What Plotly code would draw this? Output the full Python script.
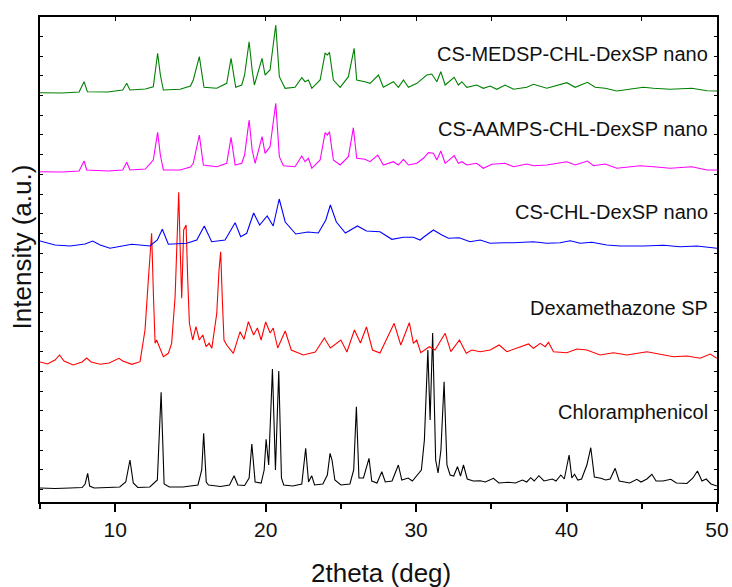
import plotly.graph_objects as go

# ---------------- data (2theta in deg, intensity in a.u.) ----------------
chl_x = [5.0, 6.0, 7.0, 7.8, 8.0, 8.17, 8.3, 8.6, 9.5, 10.3, 10.7, 10.98, 11.2, 11.5, 12.3, 12.8, 13.05, 13.25, 13.6, 14.5,
         15.5, 15.75, 15.88, 16.05, 16.2, 17.0, 17.6, 17.9, 18.15, 18.6, 18.9, 19.08, 19.3, 19.7, 19.9, 20.03, 20.2, 20.45,
         20.65, 20.87, 21.05, 21.2, 21.8, 22.4, 22.66, 22.85, 23.06, 23.25, 23.8, 24.1, 24.28, 24.41, 24.6, 25.0, 25.6,
         25.85, 26.03, 26.2, 26.5, 26.87, 27.05, 27.4, 27.72, 27.95, 28.4, 28.82, 29.05, 29.47, 29.75, 30.13, 30.35, 30.55,
         30.78, 30.93, 31.1, 31.3, 31.46, 31.65, 31.86, 32.05, 32.26, 32.5, 32.75, 32.95, 33.15, 33.4, 33.8, 34.26, 34.6,
         35.14, 35.5, 36.14, 36.6, 37.07, 37.35, 37.62, 37.85, 38.16, 38.5, 39.06, 39.3, 39.62, 39.85, 40.17, 40.35, 40.53,
         40.75, 41.0, 41.35, 41.61, 41.85, 42.28, 42.6, 42.9, 43.23, 43.5, 44.2, 44.67, 44.95, 45.34, 45.67, 45.95, 46.4,
         46.93, 47.3, 48.0, 48.4, 48.7, 49.0, 49.28, 49.6, 50.0]
chl_y = [1.5, 1, 1.5, 2, 5.5, 16.2, 3.5, 1.5, 2, 2.5, 7.5, 29.5, 6.5, 2, 2.5, 9.5, 97.2, 5.5, 2.5, 2.5,
         4.5, 19.5, 56.2, 7.5, 4.5, 3, 4.5, 13.8, 4.5, 4, 11.5, 45.5, 7.5, 6.5, 19.5, 50.2, 24.5, 120.5,
         19.5, 118.5, 11.5, 4.5, 3.5, 5.5, 41.2, 7.5, 13.8, 4.5, 5.5, 14.5, 36.2, 29.5, 9.5, 4.5, 5.5,
         19.5, 82.8, 11.5, 11.5, 31.2, 8.5, 6.5, 17.8, 7.5, 8.5, 24.5, 9.5, 11.5, 8.5, 15.5, 19.5, 49.5,
         139.5, 69.5, 156.5, 29.5, 16.5, 39.5, 107.8, 24.5, 14.5, 13.5, 22.8, 13.5, 24.5, 10.5, 8.5, 8.8, 7.5,
         11.2, 6.5, 7.2, 6.5, 9.5, 7.5, 11.8, 8.5, 13.8, 8.5, 10.5, 8.5, 14.5, 10.5, 34.5, 11.5, 15.2,
         9.5, 10.5, 24.5, 41.8, 12.5, 11.2, 9.5, 10.5, 21.2, 8.5, 6.5, 10.2, 7.5, 10.5, 15.2, 8.5, 8.5,
         10.2, 6.5, 6, 11.5, 18.5, 8.5, 10.5, 5.5, 3.5]

dex_x = [5.0, 5.5, 6.0, 6.3, 6.6, 7.2, 7.8, 8.1, 8.4, 9.0, 9.6, 10.25, 10.5, 11.1, 11.65, 11.98, 12.2, 12.42, 12.55,
         12.65, 12.75, 12.87, 13.2, 13.53, 13.75, 13.98, 14.1, 14.22, 14.32, 14.42, 14.55, 14.71, 14.82, 14.93, 15.15,
         15.37, 15.59, 15.82, 16.04, 16.24, 16.42, 16.75, 16.9, 17.01, 17.12, 17.23, 17.41, 17.85, 18.3, 18.56, 18.85,
         19.2, 19.45, 19.7, 20.0, 20.3, 20.5, 20.8, 21.3, 21.7, 22.5, 23.3, 23.9, 24.3, 25.0, 25.4, 25.9, 26.3, 26.7,
         27.1, 27.6, 28.54, 28.98, 29.55, 29.82, 30.04, 30.31, 30.88, 31.26, 31.93, 32.31, 32.88, 33.33, 33.7, 34.26,
         34.92, 35.52, 36.03, 37.47, 37.8, 38.25, 38.58, 38.8, 39.13, 40.02, 40.68, 41.35, 42.23, 43.12, 44.01, 45.34,
         46.22, 47.11, 48.0, 48.88, 49.55, 50.0]
dex_y = [127.5, 125.5, 129.5, 134.5, 128.5, 124.5, 127.5, 131.5, 127.5, 125.2, 126.5, 131.2, 128.5, 125.2, 127.8, 159.5,
         209.5, 256.2, 189.5, 146.2, 149.5, 144.5, 132.8, 136.2, 146.2, 192.8, 249.5, 297.2, 239.5, 191.2, 259.5, 264.5,
         209.5, 166.2, 149.5, 162.8, 149.5, 154.5, 142.8, 146.2, 141.2, 176.2, 219.5, 237.8, 189.5, 149.5, 144.5, 136.2,
         157.8, 150.2, 167.8, 154.5, 161.5, 149.5, 167.5, 156.5, 161.5, 141.5, 158.5, 139.5, 134.5, 137.5, 151.5, 141.5,
         149.5, 137.5, 159.5, 146.5, 162.5, 139.5, 136.5, 166.2, 144.5, 166.8, 146.2, 149.5, 136.8, 142.8, 139.5, 156.2,
         137.8, 149.5, 136.2, 139.5, 137.8, 139.5, 144.5, 137.8, 145.5, 141.2, 146.2, 142.8, 147.2, 137.8, 136.8, 140.5,
         139.5, 134.5, 136.8, 134.5, 137.8, 135.5, 132.8, 133.5, 131.2, 135.5, 131.2]

nano_x = [5.0, 6.0, 7.0, 8.0, 8.5, 9.0, 9.65, 10.5, 11.1, 12.3, 12.8, 13.13, 13.53, 14.75, 15.42, 15.92, 16.41, 17.3,
          17.97, 18.34, 18.74, 19.2, 19.6, 20.1, 20.5, 20.9, 21.3, 22.0, 22.8, 23.5, 24.0, 24.3, 24.7, 25.3, 26.1, 26.7,
          27.6, 28.39, 29.16, 29.82, 30.27, 30.49, 31.15, 31.71, 32.15, 32.86, 33.59, 34.26, 34.92, 35.8, 36.47, 37.8,
          38.69, 39.57, 40.24, 40.9, 41.68, 42.68, 43.56, 45.11, 46.44, 47.55, 48.66, 50.0]
nano_y = [248.5, 244.5, 243.5, 245.5, 248.5, 244.5, 241.2, 243.5, 245.2, 243.5, 249.5, 260.2, 245.2, 246.2, 249.5, 263.5,
          247.8, 249.5, 266.8, 252.8, 256.2, 276.5, 264.5, 273.5, 263.5, 290.5, 267.5, 255.5, 257.5, 256.5, 269.5, 284.5,
          267.5, 256.5, 263.5, 258.5, 257.8, 250.2, 252.2, 252.2, 249.5, 252.2, 259.5, 254.5, 251.2, 251.8, 247.8, 249.5,
          246.2, 246.8, 246.8, 247.8, 246.2, 246.8, 248.8, 246.2, 247.2, 244.5, 243.5, 243.5, 244.2, 242.8, 243.5, 241.2]

aamps_x = [5.0, 6.5, 7.6, 7.93, 8.1, 9.5, 10.5, 10.76, 10.98, 12.0, 12.53, 12.82, 13.0, 13.2, 14.31, 15.0, 15.19, 15.59,
           15.86, 16.75, 17.41, 17.7, 17.97, 18.41, 18.6, 18.9, 19.1, 19.3, 19.76, 19.96, 20.29, 20.67, 20.91, 21.18,
           21.95, 22.4, 22.62, 22.84, 23.07, 23.62, 23.95, 24.1, 24.24, 24.5, 24.95, 25.5, 25.83, 26.05, 26.6, 26.94,
           27.45, 27.82, 28.49, 28.82, 29.16, 29.49, 30.05, 30.5, 30.82, 31.15, 31.38, 31.64, 31.93, 32.53, 32.81, 33.04,
           33.37, 34.03, 34.47, 35.03, 35.92, 36.47, 37.36, 37.8, 38.69, 39.13, 40.02, 40.57, 41.39, 41.79, 42.57, 43.34,
           44.9, 45.78, 46.89, 48.33, 49.33, 50.0]
aamps_y = [317.8, 317.5, 318.5, 328.5, 319.5, 318.5, 319.5, 327.2, 319.5, 320.5, 329.5, 357.2, 334.5, 319.5, 319.5, 322.5,
           326.2, 354.5, 324.5, 322.8, 326.2, 352.2, 324.5, 326.2, 334.5, 369.5, 339.5, 326.2, 352.8, 336.2, 342.8, 386.2,
           332.8, 323.8, 322.8, 333.5, 327.8, 331.2, 321.2, 329.5, 356.8, 354.5, 357.8, 329.5, 324.5, 332.8, 361.8, 331.2,
           330.2, 327.8, 334.5, 324.5, 327.8, 324.5, 330.2, 324.5, 326.2, 331.5, 336.8, 336.2, 329.5, 338.5, 326.2, 333.8,
           326.2, 327.8, 324.5, 326.2, 321.2, 325.2, 326.2, 322.8, 325.5, 323.8, 324.5, 325.5, 327.8, 324.5, 328.5, 323.8,
           325.5, 321.2, 323.8, 322.8, 321.2, 322.8, 319.5, 319.5]

medsp_x = [5.0, 6.5, 7.6, 7.93, 8.15, 9.5, 10.5, 10.76, 10.98, 12.0, 12.53, 12.82, 13.0, 13.2, 14.31, 15.0, 15.19, 15.59,
           15.9, 16.75, 17.41, 17.7, 18.01, 18.41, 18.6, 18.9, 19.1, 19.25, 19.76, 19.96, 20.29, 20.67, 20.91, 21.29,
           21.95, 22.4, 22.62, 22.84, 23.07, 23.62, 23.95, 24.1, 24.24, 24.5, 24.95, 25.5, 25.88, 26.05, 26.6, 26.94,
           27.5, 27.82, 28.49, 28.82, 29.16, 29.49, 30.05, 30.71, 31.04, 31.38, 31.64, 31.93, 32.53, 32.81, 33.04, 33.37,
           34.03, 34.47, 34.92, 35.36, 35.92, 36.47, 37.36, 37.8, 38.69, 39.13, 40.02, 40.57, 41.39, 41.9, 42.57, 43.34,
           45.11, 45.78, 46.89, 48.33, 49.33, 50.0]
medsp_y = [396.8, 396.5, 397.5, 407.8, 397.8, 397.5, 399.5, 406.2, 399.5, 400.5, 402.8, 436.2, 414.5, 399.5, 400.2, 403.5,
           409.5, 432.8, 402.2, 401.2, 406.2, 431.2, 402.2, 404.5, 414.5, 447.8, 419.5, 404.5, 431.2, 414.5, 419.5, 464.5,
           412.8, 401.2, 402.2, 411.8, 407.8, 409.5, 401.2, 409.5, 436.2, 434.5, 437.2, 409.5, 402.2, 412.8, 441.2, 409.5,
           407.8, 406.2, 414.5, 402.2, 407.8, 402.2, 409.5, 402.2, 406.2, 414.5, 415.5, 407.8, 417.8, 404.5, 412.2, 404.5,
           407.8, 402.2, 404.5, 401.2, 403.5, 400.2, 404.5, 400.2, 402.2, 405.2, 401.2, 402.8, 406.8, 402.2, 407.2, 402.2,
           401.2, 398.5, 402.2, 401.2, 400.2, 401.2, 398.8, 398.5]

series_names = ["Chloramphenicol", "Dexamethazone SP", "CS-CHL-DexSP nano",
                "CS-AAMPS-CHL-DexSP nano", "CS-MEDSP-CHL-DexSP nano"]
series_x = [chl_x, dex_x, nano_x, aamps_x, medsp_x]
series_y = [chl_y, dex_y, nano_y, aamps_y, medsp_y]
colors = ["#000000", "#FF0000", "#0000FF", "#FF00FF", "#008000"]
label_y = [0.1856, 0.4006, 0.598, 0.769, 0.9237]

x_tick_vals = [10, 20, 30, 40, 50]
x_range = [5, 50]
y_range = [-12.5, 472.5]

# ---------------- figure ----------------
fig = go.Figure()
for name, xs, ys, c in zip(series_names, series_x, series_y, colors):
    fig.add_trace(go.Scatter(x=xs, y=ys, mode="lines", name=name,
                             line=dict(color=c, width=1.1), showlegend=False))

FONT = "Liberation Sans, Arial, sans-serif"

fig.update_layout(
    width=732, height=587,
    margin=dict(l=40, r=15, t=17, b=85, autoexpand=False),
    paper_bgcolor="white", plot_bgcolor="white",
    font=dict(family=FONT, color="#111111"),
    xaxis=dict(range=x_range, tickvals=x_tick_vals, ticks="outside", ticklen=8, tickwidth=2,
               tickcolor="black", showline=True, linewidth=2, linecolor="black", automargin=False,
               showgrid=False, zeroline=False, tickfont=dict(size=21, family=FONT, color="#111111"),
               minor=dict(ticks="outside", ticklen=5, tickwidth=2, dtick=5, tick0=0, tickcolor="black",
                          showgrid=False)),
    xaxis2=dict(range=x_range, overlaying="x", side="top", showline=True, linewidth=2, linecolor="black",
                ticks="inside", ticklen=4, tickwidth=1, dtick=5, tick0=0, tickcolor="black", automargin=False,
                showticklabels=False, showgrid=False, zeroline=False),
    yaxis=dict(range=y_range, ticks="inside", ticklen=3, tickwidth=1, dtick=19.7, tick0=0, automargin=False,
               tickcolor="black", showline=True, linewidth=2, linecolor="black",
               showticklabels=False, showgrid=False, zeroline=False),
    yaxis2=dict(range=y_range, overlaying="y", side="right", ticks="inside", ticklen=3, tickwidth=1,
                dtick=19.7, tick0=0, tickcolor="black", showline=True, linewidth=2, linecolor="black",
                automargin=False, showticklabels=False, showgrid=False, zeroline=False),
)

# invisible trace so the mirror axes are drawn
fig.add_trace(go.Scatter(x=[None], y=[None], xaxis="x2", yaxis="y2", showlegend=False, hoverinfo="skip"))

for name, ly in zip(series_names, label_y):
    fig.add_annotation(text=name, xref="paper", yref="paper", x=0.9897, y=ly,
                       xanchor="right", yanchor="middle", showarrow=False,
                       font=dict(size=20, family=FONT, color="#111111"))

fig.add_annotation(text="2theta (deg)", xref="paper", yref="paper", x=0.5037, y=-0.146,
                   xanchor="center", yanchor="middle", showarrow=False,
                   font=dict(size=26, family=FONT, color="#111111"))
fig.add_annotation(text="Intensity (a.u.)", xref="paper", yref="paper", x=-0.0266, y=0.527,
                   xanchor="center", yanchor="middle", showarrow=False, textangle=-90,
                   font=dict(size=26, family=FONT, color="#111111"))

fig.write_html("out.html")
